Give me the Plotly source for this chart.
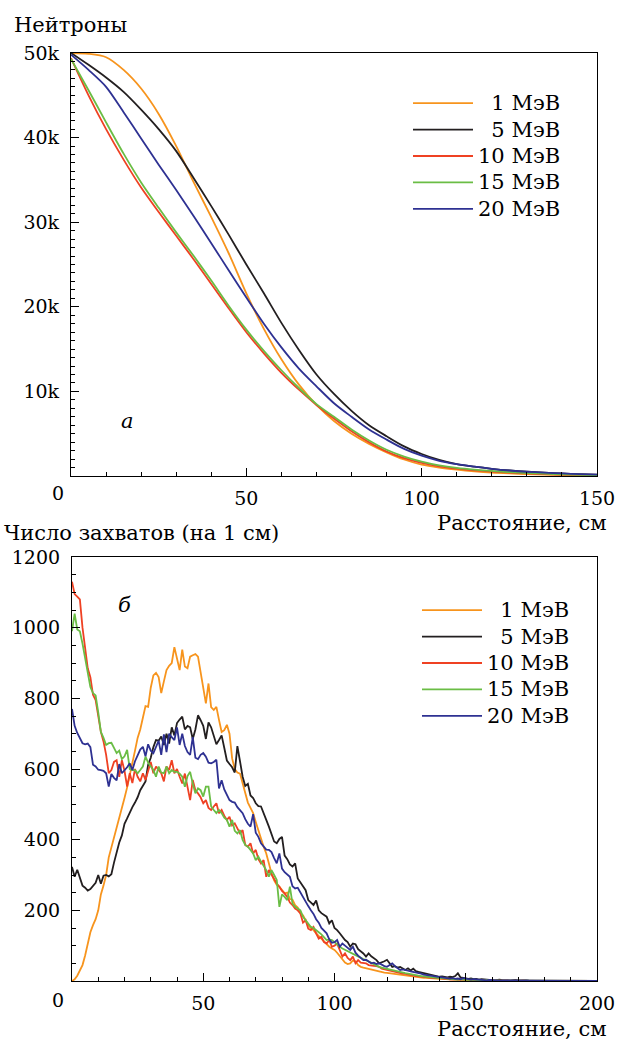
import plotly.graph_objects as go

# ---------------- data ----------------
ENERGIES = ["1 МэВ", "5 МэВ", "10 МэВ", "15 МэВ", "20 МэВ"]
COLORS = ["#F7941D", "#231F20", "#EF4123", "#6ABD45", "#2E3192"]

# Top panel: number of neutrons (thousands) vs distance (cm)
DIST_TOP = [0, 5, 10, 15, 20, 25, 30, 35, 40, 45, 50, 55, 60, 65, 70, 75, 80,
            85, 90, 95, 100, 105, 110, 115, 120, 125, 130, 135, 140, 145, 150]
N_1MEV = [50.0, 49.9, 49.5, 48.0, 45.8, 42.8, 39.0, 34.7, 30.6, 26.3, 21.6, 17.4, 13.8, 10.8, 8.4, 6.5,
          5.0, 3.8, 2.8, 1.95, 1.35, 1.0, 0.75, 0.55, 0.4, 0.3, 0.22, 0.16, 0.11, 0.08, 0.05]
N_5MEV = [50.0, 48.6, 47.1, 45.4, 43.3, 41.0, 38.4, 35.2, 31.9, 28.5, 25.0, 21.6, 18.1, 14.9, 12.0, 9.7,
          7.7, 6.0, 4.7, 3.5, 2.6, 1.9, 1.4, 1.1, 0.85, 0.65, 0.5, 0.4, 0.3, 0.22, 0.15]
N_10MEV = [49.4, 45.0, 41.0, 37.4, 34.1, 31.2, 28.4, 25.6, 22.7, 19.8, 17.0, 14.5, 12.2, 10.2, 8.4, 6.8,
           5.3, 4.0, 2.9, 2.1, 1.55, 1.15, 0.88, 0.68, 0.52, 0.4, 0.3, 0.23, 0.17, 0.12, 0.09]
N_15MEV = [49.3, 45.6, 41.8, 38.1, 34.7, 31.7, 28.8, 26.0, 23.1, 20.1, 17.3, 14.8, 12.5, 10.4, 8.5, 7.0,
           5.5, 4.2, 3.1, 2.3, 1.7, 1.25, 0.95, 0.75, 0.6, 0.45, 0.35, 0.27, 0.2, 0.15, 0.1]
N_20MEV = [49.8, 48.0, 46.0, 43.0, 39.9, 36.8, 33.8, 30.7, 27.5, 24.3, 21.1, 18.0, 15.2, 12.7, 10.6, 8.6,
           7.0, 5.5, 4.3, 3.2, 2.4, 1.8, 1.4, 1.1, 0.85, 0.65, 0.5, 0.4, 0.3, 0.22, 0.16]
TOP_SERIES = [N_1MEV, N_5MEV, N_10MEV, N_15MEV, N_20MEV]
TOP_YTICKS = [10, 20, 30, 40, 50]
TOP_YTEXT = ["10k", "20k", "30k", "40k", "50k"]
TOP_XTICKS = [50, 100, 150]

# Bottom panel: captures per 1 cm bin, bins 0..200 cm
DIST_BOT = list(range(0, 201))
C_1MEV = [0, 5, 15, 28, 45, 72, 110, 138, 158, 175,
          200, 245, 270, 300, 350, 378, 405, 428, 455, 490,
          518, 548, 580, 615, 652, 688, 712, 745, 778, 776,
          830, 865, 872, 860, 815, 848, 880, 892, 900, 945,
          915, 880, 938, 890, 885, 918, 922, 925, 918, 870,
          835, 786, 842, 775, 767, 776, 739, 705, 710, 725,
          700, 630, 600, 590, 587, 559, 525, 505, 490, 475,
          450, 425, 400, 380, 361, 330, 305, 285, 272, 267,
          258, 248, 250, 232, 230, 215, 208, 192, 186, 170,
          158, 150, 144, 135, 127, 120, 112, 105, 97, 92,
          88, 80, 70, 59, 52, 48, 50, 58, 56, 45,
          40, 38, 36, 35, 33, 31, 30, 28, 26, 24,
          23, 22, 21, 19, 18, 17, 16, 15, 14, 13,
          12, 11, 11, 10, 9, 9, 8, 8, 7, 7,
          6, 6, 5, 5, 5, 4, 4, 4, 3, 3,
          3, 3, 2, 3, 2, 2, 2, 1, 2, 1,
          1, 2, 1, 1, 1, 0, 1, 1, 0, 1,
          0, 1, 0, 0, 1, 0, 0, 0, 1, 0,
          0, 0, 0, 1, 0, 0, 0, 0, 0, 0,
          0, 0, 0, 0, 0, 0, 0, 0, 0, 0, 0]
C_5MEV = [323, 295, 315, 290, 270, 264, 256, 260, 268, 278,
          300, 275, 298, 300, 296, 302, 335, 365, 392, 412,
          445, 460, 478, 492, 505, 520, 540, 552, 565, 612,
          632, 662, 682, 680, 692, 668, 700, 672, 718, 695,
          730, 740, 748, 712, 722, 718, 685, 712, 752, 738,
          722, 685, 732, 718, 695, 670, 682, 695, 660, 624,
          614, 605, 590, 665, 622, 578, 552, 558, 525, 518,
          503, 495, 494, 472, 456, 437, 418, 395, 390, 402,
          408, 355, 345, 330, 324, 333, 290, 278, 267, 257,
          229, 222, 215, 228, 200, 192, 186, 182, 163, 172,
          150, 144, 135, 125, 116, 110, 97, 106, 104, 90,
          85, 78, 69, 78, 70, 65, 59, 50, 52, 56,
          60, 50, 40, 42, 38, 40, 35, 31, 36, 30,
          35, 28, 26, 24, 22, 22, 18, 17, 15, 14,
          12, 13, 12, 10, 12, 11, 14, 22, 10, 8,
          8, 6, 7, 5, 6, 4, 5, 4, 3, 4,
          3, 2, 3, 4, 2, 3, 2, 1, 2, 3,
          1, 2, 1, 2, 1, 1, 2, 1, 0, 1,
          2, 1, 0, 1, 1, 0, 1, 0, 1, 0,
          0, 1, 0, 0, 1, 0, 0, 0, 1, 0, 0]
C_10MEV = [1130, 1095, 1088, 1080, 1000, 940, 885, 860, 810, 795,
           748, 705, 678, 640, 588, 597, 620, 625, 578, 625,
           595, 550, 588, 560, 600, 578, 565, 588, 569, 597,
           620, 588, 607, 597, 588, 565, 607, 597, 625, 588,
           600, 578, 559, 587, 548, 512, 569, 540, 531, 520,
           503, 512, 490, 484, 494, 503, 475, 484, 468, 456,
           465, 440, 446, 430, 418, 427, 385, 380, 390, 361,
           371, 345, 333, 342, 295, 314, 300, 286, 276, 267,
           255, 248, 238, 222, 215, 205, 200, 191, 165, 172,
           148, 144, 153, 135, 120, 125, 110, 106, 116, 97,
           100, 106, 88, 69, 78, 65, 59, 69, 50, 59,
           52, 50, 50, 45, 45, 43, 42, 40, 35, 33,
           31, 30, 27, 26, 24, 22, 21, 20, 18, 17,
           15, 14, 13, 12, 12, 10, 11, 9, 8, 9,
           7, 7, 6, 7, 5, 6, 5, 4, 5, 4,
           4, 3, 4, 3, 2, 3, 2, 2, 3, 1,
           2, 1, 2, 1, 1, 2, 1, 0, 1, 1,
           0, 1, 1, 0, 1, 0, 0, 1, 0, 0,
           1, 0, 0, 0, 1, 0, 0, 0, 0, 1,
           0, 0, 0, 0, 0, 1, 0, 0, 0, 0, 0]
C_15MEV = [990, 1040, 995, 990, 955, 915, 870, 832, 815, 808,
           760, 705, 688, 668, 673, 674, 660, 645, 652, 628,
           636, 654, 600, 597, 597, 588, 597, 607, 635, 618,
           607, 597, 578, 607, 590, 588, 607, 588, 597, 592,
           592, 587, 578, 550, 580, 592, 559, 531, 545, 540,
           522, 550, 550, 494, 484, 475, 484, 475, 462, 456,
           437, 456, 425, 418, 427, 399, 385, 380, 371, 361,
           342, 352, 338, 324, 314, 295, 314, 300, 286, 210,
           245, 238, 229, 267, 219, 210, 205, 200, 182, 172,
           160, 153, 150, 145, 138, 132, 125, 116, 118, 116,
           110, 102, 97, 92, 88, 85, 80, 78, 74, 69,
           65, 62, 59, 55, 50, 48, 44, 40, 38, 36,
           35, 33, 31, 29, 27, 26, 24, 22, 21, 19,
           18, 17, 15, 14, 13, 12, 11, 10, 9, 9,
           8, 8, 7, 6, 6, 5, 5, 4, 5, 4,
           3, 3, 4, 3, 2, 3, 2, 2, 3, 1,
           2, 1, 2, 1, 1, 2, 1, 0, 1, 1,
           0, 1, 0, 1, 0, 0, 1, 0, 0, 1,
           0, 0, 0, 1, 0, 0, 0, 0, 1, 0,
           0, 0, 0, 0, 1, 0, 0, 0, 0, 0, 0]
C_20MEV = [770, 722, 702, 685, 673, 670, 672, 662, 612, 607,
           598, 597, 595, 588, 550, 586, 575, 568, 614, 588,
           596, 605, 616, 597, 622, 640, 655, 663, 636, 670,
           652, 645, 663, 680, 640, 698, 648, 700, 690, 682,
           718, 668, 700, 665, 648, 640, 690, 632, 628, 640,
           645, 635, 618, 616, 620, 626, 545, 568, 542, 525,
           512, 507, 505, 492, 484, 475, 458, 445, 437, 472,
           420, 408, 390, 380, 372, 371, 365, 348, 333, 361,
           318, 308, 300, 295, 268, 262, 264, 250, 238, 222,
           212, 200, 190, 175, 165, 150, 142, 135, 118, 108,
           110, 116, 97, 106, 100, 94, 88, 97, 80, 72,
           65, 59, 60, 55, 50, 52, 48, 50, 45, 42,
           40, 44, 50, 42, 36, 31, 33, 30, 29, 27,
           26, 25, 22, 21, 18, 17, 15, 13, 12, 11,
           10, 10, 8, 9, 7, 8, 6, 7, 5, 8,
           6, 5, 4, 5, 4, 3, 4, 3, 2, 3,
           2, 3, 2, 1, 2, 2, 1, 2, 1, 1,
           2, 1, 1, 0, 1, 1, 0, 1, 2, 0,
           1, 0, 1, 0, 0, 1, 0, 0, 1, 0,
           1, 0, 0, 0, 1, 0, 0, 0, 0, 0, 0]
BOT_SERIES = [C_1MEV, C_5MEV, C_10MEV, C_15MEV, C_20MEV]
BOT_YTICKS = [200, 400, 600, 800, 1000, 1200]
BOT_XTICKS = [50, 100, 150, 200]

# ---------------- figure ----------------
W, H = 618, 1041
FONT = "DejaVu Serif"
TICK_FS = 19
TEXT_FS = 21


def px(x):
    return x / W


def py(y):
    return 1 - y / H


fig = go.Figure()
LEGEND_LABELS = ["\u00a0\u00a01 МэВ", "\u00a0\u00a05 МэВ", "10 МэВ", "15 МэВ", "20 МэВ"]


def leg_text(s):
    return '<span style="font-size:%dpx">' % TEXT_FS + s + '</span>'


for lbl, col, ys in zip(LEGEND_LABELS, COLORS, TOP_SERIES):
    fig.add_trace(go.Scatter(x=DIST_TOP, y=ys, mode="lines", name=leg_text(lbl),
                             line=dict(color=col, width=1.8, shape="spline", smoothing=0.8),
                             xaxis="x", yaxis="y", legend="legend"))
for lbl, col, ys in zip(LEGEND_LABELS, COLORS, BOT_SERIES):
    fig.add_trace(go.Scatter(x=DIST_BOT, y=ys, mode="lines", name=leg_text(lbl),
                             line=dict(color=col, width=1.8),
                             xaxis="x2", yaxis="y2", legend="legend2"))

tickfont = dict(family=FONT, size=TICK_FS, color="black")
axis_common = dict(showline=True, linecolor="black", linewidth=1.2, mirror=True,
                   ticks="inside", ticklen=8, tickwidth=1, tickcolor="black",
                   showgrid=False, zeroline=False, automargin=False, tickfont=tickfont)

fig.update_layout(
    template="none",
    autosize=False,
    width=W, height=H, margin=dict(l=0, r=0, t=0, b=0, pad=0),
    paper_bgcolor="white", plot_bgcolor="white",
    font=dict(family=FONT, size=TEXT_FS, color="black"),
    showlegend=True,
    xaxis=dict(domain=[px(71), px(597)], range=[0, 150], anchor="y",
               tickmode="array", tickvals=TOP_XTICKS,
               minor=dict(tickmode="linear", tick0=0, dtick=10, ticks="inside", ticklen=4,
                          tickcolor="black"),
               ticklabelstandoff=5, **axis_common),
    yaxis=dict(domain=[py(476), py(53)], range=[0, 50], anchor="x",
               tickmode="array", tickvals=TOP_YTICKS, ticktext=TOP_YTEXT,
               minor=dict(tickmode="linear", tick0=0, dtick=1, ticks="inside", ticklen=4,
                          tickcolor="black"),
               ticklabelstandoff=7, **axis_common),
    xaxis2=dict(domain=[px(72), px(597)], range=[0, 200], anchor="y2",
                tickmode="array", tickvals=BOT_XTICKS,
                minor=dict(tickmode="linear", tick0=0, dtick=10, ticks="inside", ticklen=4,
                           tickcolor="black"),
                ticklabelstandoff=5, **axis_common),
    yaxis2=dict(domain=[py(981), py(557)], range=[0, 1200], anchor="x2",
                tickmode="array", tickvals=BOT_YTICKS,
                minor=dict(tickmode="linear", tick0=0, dtick=50, ticks="inside", ticklen=4,
                           tickcolor="black"),
                ticklabelstandoff=7, **axis_common),
    legend=dict(x=px(408), y=py(85), xanchor="left", yanchor="top",
                bgcolor="rgba(0,0,0,0)", itemwidth=60, tracegroupgap=0,
                font=dict(family=FONT, size=18, color="black")),
    legend2=dict(x=px(417), y=py(592), xanchor="left", yanchor="top",
                 bgcolor="rgba(0,0,0,0)", itemwidth=60, tracegroupgap=0,
                 font=dict(family=FONT, size=18, color="black")),
)

annotations = [
    dict(text="Нейтроны", x=px(12), y=py(25), xanchor="left", yanchor="middle", size=TEXT_FS),
    dict(text="Число захватов (на 1 см)", x=px(2), y=py(533), xanchor="left", yanchor="middle", size=TEXT_FS),
    dict(text="Расстояние, см", x=px(609), y=py(523), xanchor="right", yanchor="middle", size=TEXT_FS),
    dict(text="Расстояние, см", x=px(609), y=py(1029), xanchor="right", yanchor="middle", size=TEXT_FS),
    dict(text="0", x=px(58), y=py(493), xanchor="center", yanchor="middle", size=TICK_FS),
    dict(text="0", x=px(58), y=py(1000), xanchor="center", yanchor="middle", size=TICK_FS),
    dict(text="<i>a</i>", x=px(127), y=py(421), xanchor="center", yanchor="middle", size=TEXT_FS),
    dict(text="<i>б</i>", x=px(124), y=py(605), xanchor="center", yanchor="middle", size=TEXT_FS),
]
for a in annotations:
    sz = a.pop("size")
    fig.add_annotation(xref="paper", yref="paper", showarrow=False,
                       font=dict(family=FONT, size=sz, color="black"), **a)

fig.write_html("out.html", config={"responsive": False, "displayModeBar": False},
               post_script="document.body.style.margin='0px';document.body.style.overflow='hidden';")
